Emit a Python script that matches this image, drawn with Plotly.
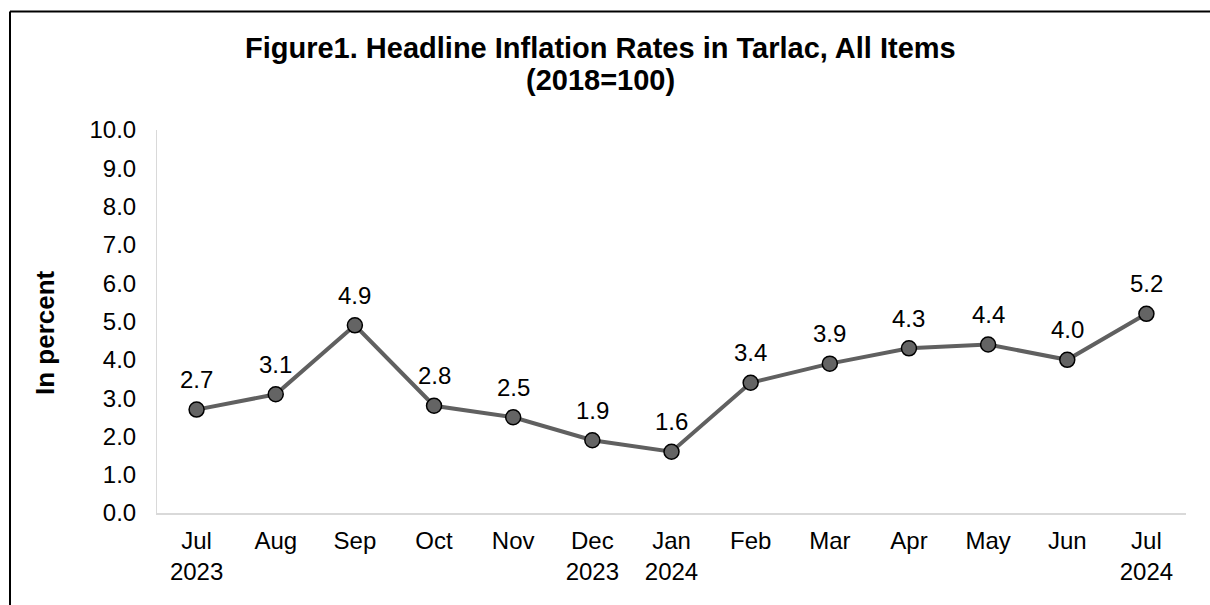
import plotly.graph_objects as go

title_line1 = "Figure1. Headline Inflation Rates in Tarlac, All Items"
title_line2 = "(2018=100)"
y_axis_title = "In percent"
months = ["Jul<br>2023", "Aug", "Sep", "Oct", "Nov", "Dec<br>2023", "Jan<br>2024",
          "Feb", "Mar", "Apr", "May", "Jun", "Jul<br>2024"]
rates = [2.7, 3.1, 4.9, 2.8, 2.5, 1.9, 1.6, 3.4, 3.9, 4.3, 4.4, 4.0, 5.2]
y_ticks = [i * 1.0 for i in range(11)]
y_tick_text = [f"{v:.1f}" for v in y_ticks]

FONT = "Liberation Sans, Arial, sans-serif"
xs = list(range(len(months)))

W, H = 1210, 605
L, R, T, B = 157, 24, 130, 92
PW, PH = W - L - R, H - T - B


def px_x(px):
    return (px - L) / PW


def px_y(py):
    return (H - B - py) / PH


fig = go.Figure()
fig.add_trace(go.Scatter(
    x=xs, y=rates,
    mode="lines+markers",
    line=dict(color="#606060", width=4),
    marker=dict(size=15, color="#646464", line=dict(color="#000000", width=1.5)),
    cliponaxis=False,
    showlegend=False,
    hoverinfo="skip",
))

for xi, v in zip(xs, rates):
    fig.add_annotation(x=xi, y=v, text=f"{v:.1f}", showarrow=False,
                       yshift=30, yanchor="middle", xanchor="center",
                       font=dict(family=FONT, size=24, color="#000000"))

# title lines
fig.add_annotation(xref="paper", yref="paper", x=px_x(600), y=px_y(48),
                   text=f"<b>{title_line1}</b>", showarrow=False,
                   xanchor="center", yanchor="middle",
                   font=dict(family=FONT, size=29, color="#000000"))
fig.add_annotation(xref="paper", yref="paper", x=px_x(600), y=px_y(80),
                   text=f"<b>{title_line2}</b>", showarrow=False,
                   xanchor="center", yanchor="middle",
                   font=dict(family=FONT, size=29, color="#000000"))
# y axis title
fig.add_annotation(xref="paper", yref="paper", x=px_x(45), y=px_y(333),
                   text=f"<b>{y_axis_title}</b>", showarrow=False, textangle=-90,
                   xanchor="center", yanchor="middle",
                   font=dict(family=FONT, size=26, color="#000000"))

fig.update_layout(
    width=W, height=H,
    paper_bgcolor="white", plot_bgcolor="white",
    margin=dict(l=L, r=R, t=T, b=B, autoexpand=False),
    font=dict(family=FONT, size=24, color="#000000"),
)
fig.update_xaxes(
    tickmode="array", tickvals=xs, ticktext=months,
    range=[-0.5, len(months) - 0.5],
    showgrid=False, zeroline=False, automargin=False,
    showline=True, linecolor="#d9d9d9", linewidth=2,
    ticks="outside", ticklen=5, tickcolor="rgba(0,0,0,0)",
    tickfont=dict(family=FONT, size=24, color="#000000"),
)
fig.update_yaxes(
    range=[0, 10], tickmode="array", tickvals=y_ticks, ticktext=y_tick_text,
    showgrid=False, zeroline=False, automargin=False,
    showline=True, linecolor="#d9d9d9", linewidth=1,
    ticks="outside", ticklen=15, tickcolor="rgba(0,0,0,0)",
    tickfont=dict(family=FONT, size=24, color="#000000"),
)
# outer frame: left and top edges (right/bottom lie outside the picture)
fig.add_shape(type="line", xref="paper", yref="paper",
              x0=px_x(10), x1=px_x(10), y0=px_y(660), y1=px_y(11.5),
              line=dict(color="black", width=2), layer="above")
fig.add_shape(type="line", xref="paper", yref="paper",
              x0=px_x(10), x1=px_x(1260), y0=px_y(11.5), y1=px_y(11.5),
              line=dict(color="black", width=2), layer="above")

fig.write_html("out.html", config={"displayModeBar": False},
               post_script="document.body.style.margin='0';document.body.style.overflow='hidden';")
